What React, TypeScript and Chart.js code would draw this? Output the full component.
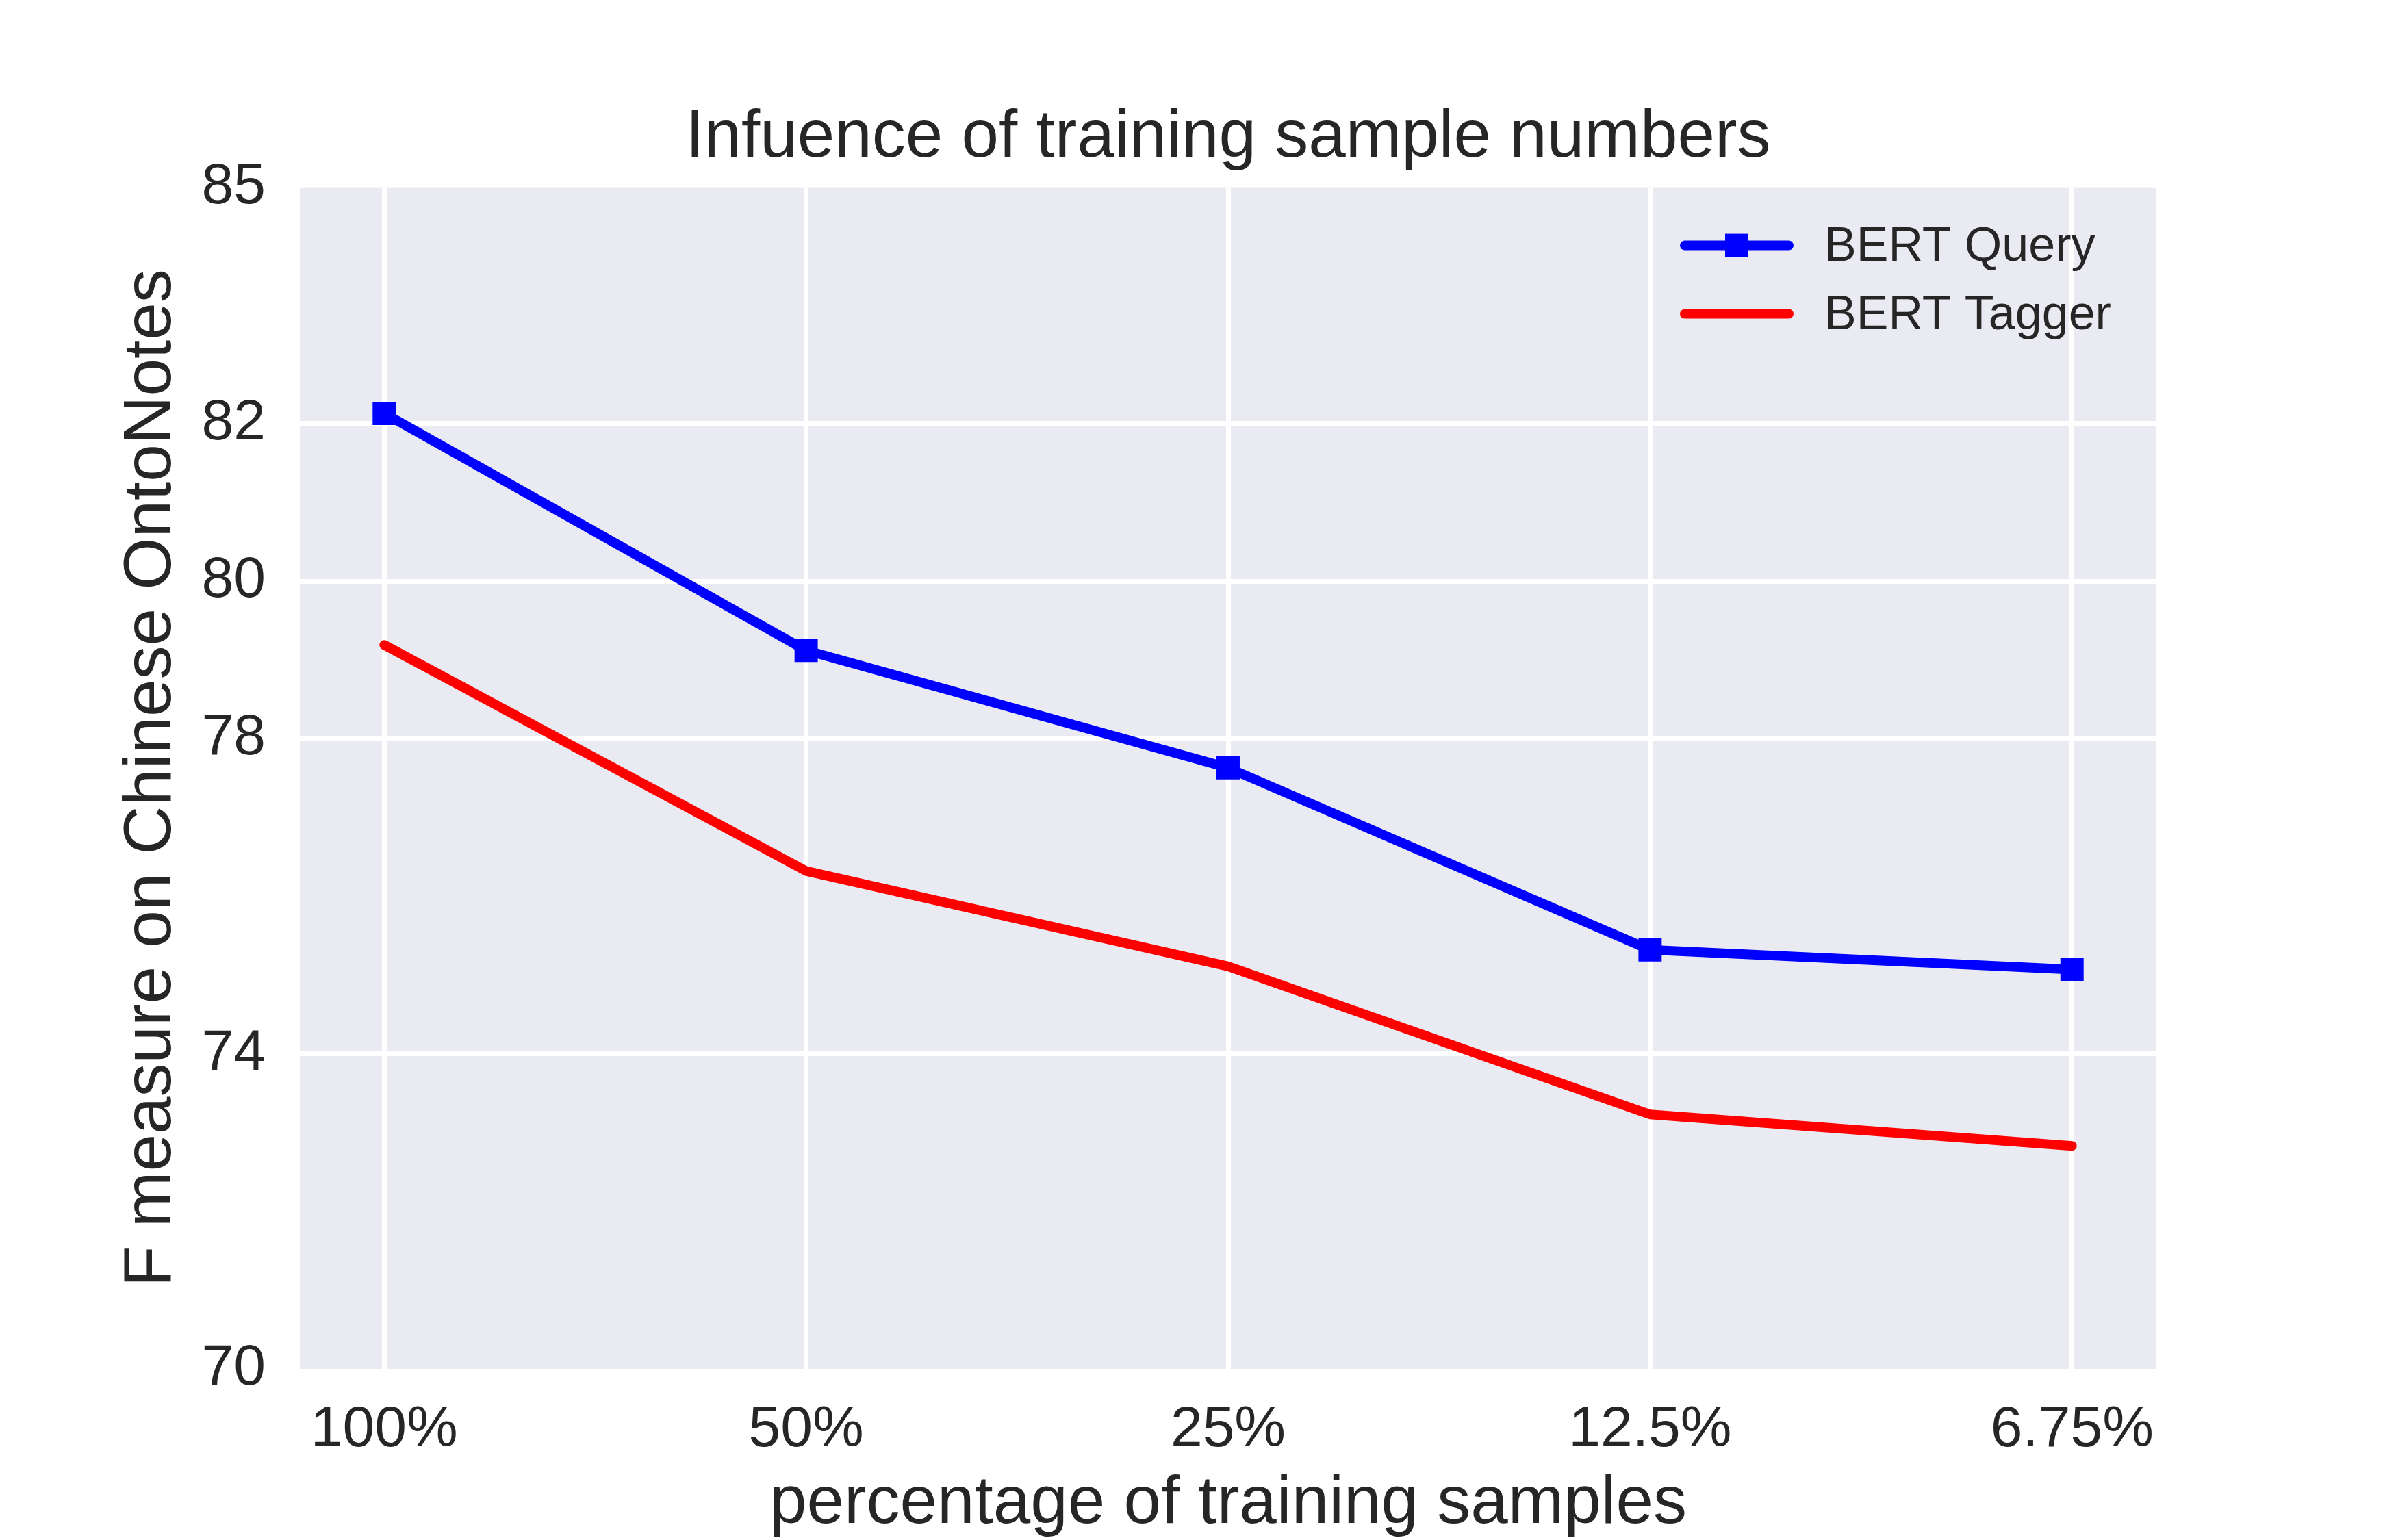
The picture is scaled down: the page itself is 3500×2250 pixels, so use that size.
import { useEffect, useRef } from "react"
import Chart from "chart.js/auto"

const categories = ["100%", "50%", "25%", "12.5%", "6.75%"]
const bertQuery = [82.13, 79.12, 77.63, 75.32, 75.07]
const bertTagger = [79.19, 76.32, 75.11, 73.23, 72.83]
const yTicks = [70, 74, 78, 80, 82, 85]

const FONT = "'Liberation Sans', Arial, sans-serif"
const TEXT = "#262626"

// axes background like seaborn darkgrid
const backgroundPlugin = {
  id: "plotBackground",
  beforeDraw(chart: Chart) {
    const { ctx, chartArea } = chart
    ctx.save()
    ctx.fillStyle = "#EAEAF2"
    ctx.fillRect(chartArea.left, chartArea.top, chartArea.width, chartArea.height)
    ctx.restore()
  }
}

// legend drawn inside the plot, top right
const insideLegendPlugin = {
  id: "insideLegend",
  afterDraw(chart: Chart) {
    const { ctx, chartArea } = chart
    const lineStart = chartArea.right - 689
    const lineEnd = lineStart + 152
    const textX = lineEnd + 52
    ctx.save()
    chart.data.datasets.forEach((ds: any, i: number) => {
      const y = chartArea.top + 85 + i * 100
      ctx.strokeStyle = ds.borderColor
      ctx.lineWidth = ds.borderWidth
      ctx.lineCap = "round"
      ctx.beginPath()
      ctx.moveTo(lineStart, y)
      ctx.lineTo(lineEnd, y)
      ctx.stroke()
      if (ds.pointRadius > 0) {
        ctx.fillStyle = ds.pointBackgroundColor
        ctx.fillRect((lineStart + lineEnd) / 2 - 17, y - 17, 34, 34)
      }
      ctx.fillStyle = TEXT
      ctx.font = `70px ${FONT}`
      ctx.textAlign = "left"
      ctx.textBaseline = "middle"
      ctx.fillText(ds.label, textX, y + 3)
    })
    ctx.restore()
  }
}

const InfluenceChart = () => {
  const chartRef = useRef<HTMLCanvasElement>(null)
  const chartInstance = useRef<Chart | null>(null)

  useEffect(() => {
    document.body.style.margin = "0"
    if (!chartRef.current) return
    const ctx = chartRef.current.getContext("2d")
    if (!ctx) return
    if (chartInstance.current) chartInstance.current.destroy()

    chartInstance.current = new Chart(ctx, {
      type: "line",
      data: {
        datasets: [
          {
            label: "BERT Query",
            data: bertQuery.map((v, i) => ({ x: i, y: v })),
            borderColor: "#0000FF",
            backgroundColor: "#0000FF",
            borderWidth: 14,
            borderCapStyle: "round",
            borderJoinStyle: "round",
            pointStyle: "rect",
            pointRadius: 24,
            pointBorderWidth: 0,
            pointBackgroundColor: "#0000FF",
            tension: 0
          },
          {
            label: "BERT Tagger",
            data: bertTagger.map((v, i) => ({ x: i, y: v })),
            borderColor: "#FF0000",
            backgroundColor: "#FF0000",
            borderWidth: 14,
            borderCapStyle: "round",
            borderJoinStyle: "round",
            pointRadius: 0,
            tension: 0
          }
        ]
      },
      options: {
        animation: false,
        responsive: true,
        maintainAspectRatio: false,
        layout: { padding: { left: 0, right: 350, top: 0, bottom: 0 } },
        scales: {
          x: {
            type: "linear",
            min: -0.2,
            max: categories.length - 1 + 0.2,
            afterBuildTicks: (axis: any) => {
              axis.ticks = categories.map((_, i) => ({ value: i }))
            },
            afterFit: (axis: any) => {
              axis.height = 250
            },
            grid: { color: "#FFFFFF", lineWidth: 7, drawTicks: false },
            border: { display: false },
            ticks: {
              autoSkip: false,
              maxRotation: 0,
              padding: 39,
              color: TEXT,
              font: { family: FONT, size: 84 },
              callback: (value: any) => categories[value as number] ?? ""
            },
            title: {
              display: true,
              text: "percentage of training samples",
              color: TEXT,
              font: { family: FONT, size: 98, lineHeight: 1 },
              padding: { top: 0, bottom: 3 }
            }
          },
          y: {
            min: 70,
            max: 85,
            afterBuildTicks: (axis: any) => {
              axis.ticks = yTicks.map(v => ({ value: v }))
            },
            afterFit: (axis: any) => {
              axis.width = 438
            },
            grid: {
              color: (c: any) => (c.tick && (c.tick.value === 70 || c.tick.value === 85) ? "rgba(0,0,0,0)" : "#FFFFFF"),
              lineWidth: 7,
              drawTicks: false
            },
            border: { display: false },
            ticks: {
              padding: 50,
              color: TEXT,
              font: { family: FONT, size: 84 },
              callback: (value: any) => String(value)
            },
            title: {
              display: true,
              text: "F measure on Chinese OntoNotes",
              color: TEXT,
              font: { family: FONT, size: 98 },
              padding: { top: 163, bottom: 0 }
            }
          }
        },
        plugins: {
          legend: { display: false },
          tooltip: { enabled: false },
          title: {
            display: true,
            fullSize: false,
            text: "Infuence of training sample numbers",
            color: TEXT,
            font: { family: FONT, size: 98, weight: "normal" },
            padding: { top: 143, bottom: 13 }
          }
        }
      },
      plugins: [backgroundPlugin, insideLegendPlugin]
    })

    return () => {
      if (chartInstance.current) {
        chartInstance.current.destroy()
        chartInstance.current = null
      }
    }
  }, [])

  return (
    <div style={{ position: "relative", width: "3500px", height: "2250px", background: "#FFFFFF" }}>
      <canvas ref={chartRef}></canvas>
    </div>
  )
}

export default function App() {
  return <InfluenceChart />
}
